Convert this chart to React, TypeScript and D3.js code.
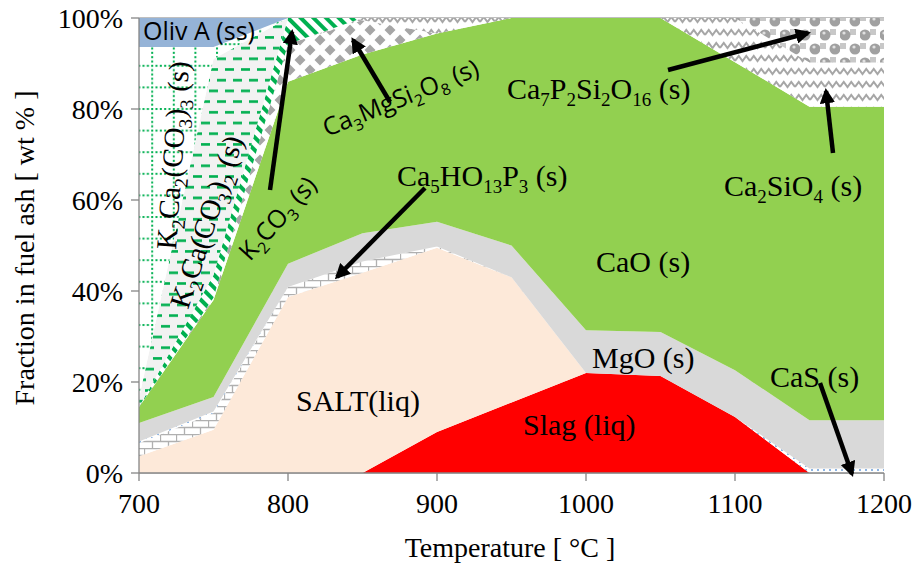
import React from 'react'
import * as d3 from 'd3'

// temperatures (°C) and phase amounts (wt %) per temperature
const temps = [700, 750, 800, 850, 900, 950, 1000, 1050, 1100, 1150, 1200]

const slag = [0, 0, 0, 0, 9, 15.5, 22, 21.3, 12.3, 0, 0]
const salt = [3.7, 9.5, 38.7, 44, 40.5, 27.5, 0, 0, 0, 0, 0]
const ca5ho13p3 = [2.9, 3.7, 2.2, 2.5, 0.3, 0, 0, 0, 0, 0, 0]
const cas = [0.3, 0.3, 0, 0, 0, 0, 0, 0, 0, 1, 1]
const mgo = [4.1, 3.2, 5.1, 6.2, 5.4, 7, 9.4, 9.7, 10.3, 10.6, 10.6]
const cao = [3.5, 21.3, 40, 39.3, 41.4, 50, 68.6, 69, 67.7, 68.9, 68.9]
const ca3mgsi2o8 = [0, 0.5, 8.3, 7.5, 0, 0, 0, 0, 0, 0, 0]
const ca2sio4 = [0, 0, 0, 0.5, 3.4, 0, 0, 0, 9.7, 9.7, 9.7]
const ca7p2si2o16 = [0, 0, 0, 0, 0, 0, 0, 0, 0, 9.8, 9.8]
const k2co3 = [0, 5, 5.7, 0, 0, 0, 0, 0, 0, 0, 0]
const k2caco32 = [2, 47.5, 0, 0, 0, 0, 0, 0, 0, 0, 0]
const k2ca2co33 = [77.1, 2.6, 0, 0, 0, 0, 0, 0, 0, 0, 0]
const olivA = [6.4, 6.4, 0, 0, 0, 0, 0, 0, 0, 0, 0]

const yTicks = [0, 20, 40, 60, 80, 100]
const xTicks = [700, 800, 900, 1000, 1100, 1200]

const series = [
  { key: 'slag', values: slag, fill: '#FF0000' },
  { key: 'salt', values: salt, fill: '#FDE9D9' },
  { key: 'ca5', values: ca5ho13p3, fill: 'url(#brick)' },
  { key: 'cas', values: cas, fill: 'url(#bluedots)' },
  { key: 'mgo', values: mgo, fill: '#D9D9D9' },
  { key: 'cao', values: cao, fill: '#92D050' },
  { key: 'ca3mg', values: ca3mgsi2o8, fill: 'url(#diamonds)' },
  { key: 'ca2si', values: ca2sio4, fill: 'url(#zigzag)' },
  { key: 'ca7p2', values: ca7p2si2o16, fill: 'url(#balls)' },
  { key: 'k2co3', values: k2co3, fill: 'url(#stripes)' },
  { key: 'k2ca', values: k2caco32, fill: 'url(#dashes)' },
  { key: 'k2ca2', values: k2ca2co33, fill: 'url(#dotgrid)' },
  { key: 'oliv', values: olivA, fill: '#95B3D7' },
]

const W = 916
const H = 567
const x = d3.scaleLinear().domain([700, 1200]).range([139, 884])
const y = d3.scaleLinear().domain([0, 100]).range([473, 18])

const rows = temps.map((t, i) => {
  const r: any = { t }
  series.forEach((s) => (r[s.key] = s.values[i]))
  return r
})
const stacked = d3.stack().keys(series.map((s) => s.key))(rows)

const area = d3
  .area<any>()
  .x((d) => x(d.data.t))
  .y0((d) => y(d[0]))
  .y1((d) => y(d[1]))

// "Ca_7P_2" -> Ca<sub>7</sub>P<sub>2</sub>
const chem = (s: string, sub: number, shift: number) => {
  const parts = s.split(/(_\d+)/).filter((p) => p !== '')
  let down = false
  return parts.map((p, i) => {
    if (p.startsWith('_')) {
      const dy = down ? 0 : shift
      down = true
      return (
        <tspan key={i} fontSize={sub} dy={dy}>
          {p.slice(1)}
        </tspan>
      )
    }
    const dy = down ? -shift : 0
    down = false
    return (
      <tspan key={i} dy={dy}>
        {p}
      </tspan>
    )
  })
}

const serif = '"Liberation Serif", "Times New Roman", serif'
const sans = '"Open Sans", "Noto Sans", sans-serif'

const serifLabels = [
  { text: 'Ca_7P_2Si_2O_16 (s)', x: 507, y: 99 },
  { text: 'Ca_5HO_13P_3 (s)', x: 397, y: 186 },
  { text: 'Ca_2SiO_4 (s)', x: 724, y: 196 },
  { text: 'CaO (s)', x: 596, y: 272 },
  { text: 'MgO (s)', x: 592, y: 368 },
  { text: 'CaS (s)', x: 770, y: 387 },
  { text: 'SALT(liq)', x: 296, y: 411 },
  { text: 'Slag (liq)', x: 523, y: 435 },
]

const rotLabels = [
  { text: 'K_2Ca_2(CO_3)_3 (s)', x: 176, y: 250, a: -86, font: serif, size: 29, sub: 19, shift: 7 },
  { text: 'K_2Ca(CO_3)_2 (s)', x: 188, y: 310, a: -72, font: serif, size: 29, sub: 19, shift: 7 },
  { text: 'K_2CO_3 (s)', x: 250, y: 262, a: -48, font: sans, size: 25, sub: 16, shift: 6 },
  { text: 'Ca_3MgSi_2O_8 (s)', x: 327, y: 137, a: -22, font: sans, size: 25, sub: 16, shift: 6 },
]

const arrows = [
  { x1: 270, y1: 190, x2: 292, y2: 32 },
  { x1: 390, y1: 102, x2: 353, y2: 40 },
  { x1: 668, y1: 70, x2: 808, y2: 33 },
  { x1: 833, y1: 153, x2: 826, y2: 91 },
  { x1: 425, y1: 188, x2: 337, y2: 277 },
  { x1: 820, y1: 383, x2: 852, y2: 474 },
]

export default function App() {
  return (
    <svg width={W} height={H} style={{ display: 'block', position: 'absolute', left: 0, top: 0 }}>
      <defs>
        <pattern id="brick" width="16" height="14" patternUnits="userSpaceOnUse">
          <rect width="16" height="14" fill="#fff" />
          <path d="M0,0.5H16M0,7.5H16M0.5,0V7M8.5,7V14" stroke="#B0B0B0" strokeWidth="1.3" fill="none" />
        </pattern>
        <pattern id="bluedots" width="6" height="4" patternUnits="userSpaceOnUse">
          <rect width="6" height="4" fill="#fff" />
          <rect x="1" y="1" width="2" height="2" fill="#8DB4E2" />
        </pattern>
        <pattern id="diamonds" width="20" height="20" patternUnits="userSpaceOnUse">
          <rect width="20" height="20" fill="#fff" />
          <path
            d="M10,4.5 L15.5,10 L10,15.5 L4.5,10Z M0,-5.5 L5.5,0 L0,5.5 L-5.5,0Z M20,-5.5 L25.5,0 L20,5.5 L14.5,0Z M0,14.5 L5.5,20 L0,25.5 L-5.5,20Z M20,14.5 L25.5,20 L20,25.5 L14.5,20Z"
            fill="#A6A6A6"
          />
        </pattern>
        <pattern id="zigzag" width="15" height="13" patternUnits="userSpaceOnUse">
          <rect width="15" height="13" fill="#fff" />
          <path d="M0,9 L3.75,4 L7.5,9 L11.25,4 L15,9" stroke="#A6A6A6" strokeWidth="2" fill="none" />
        </pattern>
        <pattern id="balls" width="20" height="28" patternUnits="userSpaceOnUse">
          <rect width="20" height="28" fill="#fff" />
          <rect x="10" y="1" width="6" height="6" fill="#C8C8C8" />
          <rect x="0" y="15" width="6" height="6" fill="#C8C8C8" />
          <circle cx="5" cy="7" r="5.5" fill="#A0A0A0" />
          <circle cx="15" cy="21" r="5.5" fill="#A0A0A0" />
          <circle cx="4" cy="5" r="1.6" fill="#E0E0E0" />
          <circle cx="14" cy="19" r="1.6" fill="#E0E0E0" />
        </pattern>
        <pattern id="stripes" width="9" height="9" patternUnits="userSpaceOnUse" patternTransform="rotate(-45)">
          <rect width="9" height="9" fill="#fff" />
          <rect x="0" y="0" width="4" height="9" fill="#00B050" />
        </pattern>
        <pattern id="dashes" width="16" height="21.4" patternUnits="userSpaceOnUse">
          <rect width="16" height="21.4" fill="#F2F2F2" />
          <rect x="1" y="4" width="9" height="2.6" fill="#00B050" />
          <rect x="9" y="14.7" width="9" height="2.6" fill="#00B050" />
          <rect x="-7" y="14.7" width="9" height="2.6" fill="#00B050" />
        </pattern>
        <pattern id="dotgrid" width="21.6" height="21.6" patternUnits="userSpaceOnUse">
          <rect width="21.6" height="21.6" fill="#fff" />
          {[0, 1, 2, 3, 4].map((k) => (
            <g key={k}>
              <rect x={k * 4.32} y="0" width="2" height="2" fill="#00B050" />
              <rect x="0" y={k * 4.32} width="2" height="2" fill="#00B050" />
            </g>
          ))}
        </pattern>
        <marker id="head" viewBox="0 0 10 10" refX="8" refY="5" markerWidth="3.4" markerHeight="3.4" orient="auto">
          <path d="M0,0 L10,5 L0,10Z" fill="#000" />
        </marker>
      </defs>

      {/* gridlines */}
      {yTicks.map((t) => (
        <line key={t} x1={139} x2={884} y1={y(t)} y2={y(t)} stroke="#BFBFBF" strokeWidth={1} />
      ))}

      {/* stacked areas */}
      {stacked.map((layer, i) => (
        <path key={layer.key} d={area(layer as any) || ''} fill={series[i].fill} />
      ))}

      <line x1={139} x2={884} y1={17.5} y2={17.5} stroke="#BFBFBF" strokeWidth={1.2} />

      {/* axes */}
      <line x1={139} x2={139} y1={18} y2={473} stroke="#868686" strokeWidth={1.3} />
      <line x1={139} x2={884} y1={473} y2={473} stroke="#868686" strokeWidth={1.3} />
      {yTicks.map((t) => (
        <g key={t}>
          <line x1={131} x2={139} y1={y(t)} y2={y(t)} stroke="#868686" strokeWidth={1.3} />
          <text x={123} y={y(t) + 9.5} textAnchor="end" fontFamily={serif} fontSize={28}>
            {t}%
          </text>
        </g>
      ))}
      {xTicks.map((t) => (
        <g key={t}>
          <line x1={x(t)} x2={x(t)} y1={473} y2={481} stroke="#868686" strokeWidth={1.3} />
          <text x={x(t)} y={513} textAnchor="middle" fontFamily={serif} fontSize={28}>
            {t}
          </text>
        </g>
      ))}
      <text x={510} y={557} textAnchor="middle" fontFamily={serif} fontSize={28}>
        Temperature [ °C ]
      </text>
      <text transform="translate(34,248) rotate(-90)" textAnchor="middle" fontFamily={serif} fontSize={28}>
        Fraction in fuel ash [ wt % ]
      </text>

      {/* phase labels */}
      <text x={143} y={40} fontFamily={sans} fontSize={25} style={{ whiteSpace: 'pre' }}>
        Oliv A (ss)
      </text>
      {serifLabels.map((l) => (
        <text key={l.text} x={l.x} y={l.y} fontFamily={serif} fontSize={30} style={{ whiteSpace: 'pre' }}>
          {chem(l.text, 19, 7)}
        </text>
      ))}
      {rotLabels.map((l) => (
        <text
          key={l.text}
          transform={`translate(${l.x},${l.y}) rotate(${l.a})`}
          fontFamily={l.font}
          fontSize={l.size}
          style={{ whiteSpace: 'pre' }}>
          {chem(l.text, l.sub, l.shift)}
        </text>
      ))}

      {/* arrows */}
      {arrows.map((a, i) => (
        <line key={i} x1={a.x1} y1={a.y1} x2={a.x2} y2={a.y2} stroke="#000" strokeWidth={4.5} markerEnd="url(#head)" />
      ))}
    </svg>
  )
}
